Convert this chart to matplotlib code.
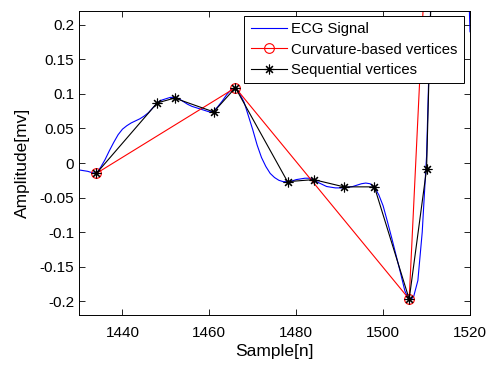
import matplotlib
matplotlib.use('Agg')
import matplotlib.pyplot as plt
import numpy as np

matplotlib.rc('font', family=['Liberation Sans', 'DejaVu Sans'], size=11)
matplotlib.rcParams['axes.unicode_minus'] = False

# ECG signal, one value per sample
samples = np.arange(1430, 1521)
ecg = [-0.010, -0.011, -0.012, -0.014, -0.015, -0.006, 0.005, 0.018, 0.030, 0.041,
       0.049, 0.054, 0.058, 0.061, 0.064, 0.068, 0.073, 0.080, 0.087, 0.091,
       0.093, 0.095, 0.095, 0.093, 0.089, 0.085, 0.082, 0.080, 0.078, 0.076,
       0.074, 0.075, 0.082, 0.090, 0.099, 0.106, 0.109, 0.100, 0.088, 0.068,
       0.048, 0.026, 0.008, -0.005, -0.015, -0.021, -0.025, -0.027, -0.027, -0.026,
       -0.024, -0.023, -0.022, -0.022, -0.024, -0.028, -0.031, -0.034, -0.035, -0.036,
       -0.036, -0.036, -0.035, -0.034, -0.032, -0.030, -0.029, -0.030, -0.035, -0.046,
       -0.062, -0.085, -0.109, -0.134, -0.159, -0.185, -0.199, -0.194, -0.170, -0.100,
       0.010, 0.240, 0.550, 0.720, 0.680, 0.620, 0.560, 0.500, 0.450, 0.400,
       0.190]

curv_x = [1434, 1466, 1506, 1513]
curv_y = [-0.015, 0.109, -0.197, 0.720]

seq_x = [1434, 1448, 1452, 1461, 1466, 1478, 1484, 1491, 1498, 1506, 1510, 1513]
seq_y = [-0.015, 0.087, 0.094, 0.074, 0.109, -0.027, -0.024, -0.0345, -0.0345, -0.197, -0.009, 0.720]

fig = plt.figure(figsize=(4.86, 3.70), dpi=100)
ax = fig.add_axes([0.1626, 0.1486, 0.8045, 0.8216])

ax.plot(samples, ecg, '-', color='blue', linewidth=0.8, label='ECG Signal')
ax.plot(curv_x, curv_y, '-o', color='red', linewidth=0.8, markersize=7,
        markerfacecolor='none', markeredgewidth=0.8, label='Curvature-based vertices')
ax.plot(seq_x, seq_y, '-', color='black', linewidth=0.8, marker=(8, 2, 0),
        markersize=7, markeredgewidth=0.8, label='Sequential vertices')

ax.set_xlim(1430, 1520)
ax.set_ylim(-0.22, 0.22)
ax.set_xticks([1440, 1460, 1480, 1500, 1520])
ax.set_yticks([-0.2, -0.15, -0.1, -0.05, 0, 0.05, 0.1, 0.15, 0.2])
ax.set_yticklabels(['-0.2', '-0.15', '-0.1', '-0.05', '0', '0.05', '0.1', '0.15', '0.2'])
ax.tick_params(direction='in', top=True, right=True, length=4, width=0.6, labelsize=11)
ax.tick_params(axis='x', pad=8)
for sp in ax.spines.values():
    sp.set_linewidth(0.7)

ax.set_xlabel('Sample[n]', fontsize=12.5, labelpad=3)
ax.set_ylabel('Amplitude[mv]', fontsize=12.5, labelpad=7)

leg = ax.legend(loc='upper right', bbox_to_anchor=(0.985, 0.985), fontsize=10.7,
                fancybox=False, framealpha=1, edgecolor='black', handlelength=2.4,
                borderpad=0.45, labelspacing=0.42, handletextpad=0.3, borderaxespad=0)
leg.get_frame().set_linewidth(0.7)

fig.savefig('out.png', dpi=100)
